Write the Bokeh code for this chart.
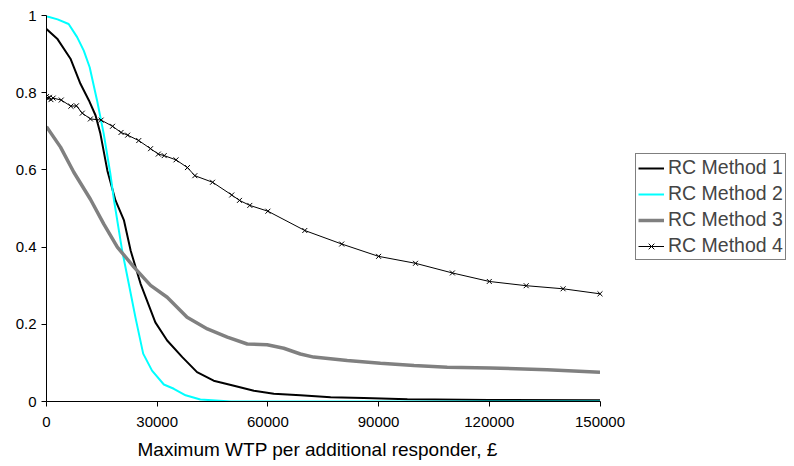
from bokeh.plotting import figure
from bokeh.models import Range1d, FixedTicker, NumeralTickFormatter, Legend, LegendItem, Title
from bokeh.embed import file_html
from bokeh.resources import INLINE

# RC Method 1
m1_x = [0, 2900, 6500, 9200, 11500, 13300, 14600, 16500, 18700, 21000, 22800, 25500, 29500, 32700, 36800, 40800, 45300, 50800, 56200, 61600, 68800, 77000, 86000, 97800, 120000, 150000]
m1_y = [0.965, 0.940, 0.888, 0.823, 0.780, 0.741, 0.694, 0.598, 0.521, 0.469, 0.391, 0.305, 0.205, 0.158, 0.115, 0.076, 0.054, 0.041, 0.028, 0.020, 0.016, 0.011, 0.009, 0.006, 0.004, 0.003]
# RC Method 2
m2_x = [0, 3000, 6000, 8300, 10100, 11700, 13700, 15500, 17300, 18300, 20500, 22300, 24100, 26200, 28600, 31800, 34500, 37700, 41700, 50000, 150000]
m2_y = [0.998, 0.990, 0.978, 0.944, 0.909, 0.866, 0.780, 0.694, 0.590, 0.521, 0.391, 0.305, 0.218, 0.124, 0.080, 0.044, 0.033, 0.016, 0.005, 0.0, 0.0]
# RC Method 3
m3_x = [0, 3800, 7400, 11900, 15500, 19200, 23700, 28200, 32700, 38100, 43600, 49000, 54400, 59800, 64300, 68800, 72400, 81500, 90500, 99600, 108600, 120300, 135700, 150000]
m3_y = [0.712, 0.659, 0.594, 0.524, 0.460, 0.400, 0.348, 0.301, 0.270, 0.218, 0.188, 0.167, 0.149, 0.147, 0.138, 0.123, 0.115, 0.106, 0.099, 0.093, 0.089, 0.087, 0.082, 0.076]
# RC Method 4
m4_x = [0, 400, 800, 1200, 1800, 4000, 6600, 8100, 9700, 11900, 14800, 17900, 20200, 22000, 25000, 28200, 30300, 31900, 35100, 38200, 40200, 45000, 50200, 52300, 55100, 60000, 70000, 80000, 90000, 100000, 110000, 120000, 130000, 140000, 150000]
m4_y = [0.790, 0.785, 0.788, 0.782, 0.786, 0.781, 0.765, 0.766, 0.747, 0.732, 0.729, 0.713, 0.697, 0.690, 0.676, 0.655, 0.641, 0.637, 0.626, 0.606, 0.585, 0.568, 0.535, 0.521, 0.508, 0.493, 0.443, 0.408, 0.376, 0.358, 0.333, 0.311, 0.300, 0.292, 0.279]

labels = ["RC Method 1", "RC Method 2", "RC Method 3", "RC Method 4"]
x_ticks = [0, 30000, 60000, 90000, 120000, 150000]
y_ticks = [0, 0.2, 0.4, 0.6, 0.8, 1]
x_title = "Maximum WTP per additional responder, \u00a3"
X_MAX = 150000

FONT = "Liberation Sans"

# frame spans the whole right side so the legend can sit beside the axis;
# the x axis itself is bounded to 0..150000 (pixel 46..600)
frame_w = 794 - 46
x_end = X_MAX * frame_w / 553.5

p = figure(width=794, height=466, output_backend="svg", toolbar_location=None,
           x_range=Range1d(0, x_end), y_range=Range1d(0, 1),
           min_border_left=46, min_border_right=0, min_border_top=15, min_border_bottom=20)
p.outline_line_color = None
p.xgrid.visible = False
p.ygrid.visible = False
p.background_fill_color = "white"
p.border_fill_color = "white"

r1 = p.line(m1_x, m1_y, line_color="black", line_width=2)
r2 = p.line(m2_x, m2_y, line_color="#00FFFF", line_width=2)
r3 = p.line(m3_x, m3_y, line_color="#808080", line_width=3.5)
r4 = p.line(m4_x, m4_y, line_color="black", line_width=1)
r4m = p.scatter(m4_x, m4_y, marker="x", size=7, line_color="black", line_width=1)

for ax in (p.xaxis[0], p.yaxis[0]):
    ax.axis_line_color = "black"
    ax.axis_line_width = 1
    ax.major_tick_in = 0
    ax.major_tick_out = 5
    ax.minor_tick_line_color = None
    ax.major_label_text_font = FONT
    ax.major_label_text_font_size = "15px"
    ax.major_label_text_color = "black"

p.xaxis[0].bounds = (0, X_MAX)
p.xaxis[0].ticker = FixedTicker(ticks=x_ticks)
p.yaxis[0].ticker = FixedTicker(ticks=y_ticks)
p.xaxis[0].formatter = NumeralTickFormatter(format="0")
p.yaxis[0].formatter = NumeralTickFormatter(format="0.[0]")
p.xaxis[0].major_label_standoff = 10

xt = Title(text=x_title, align="left", offset=91, standoff=14,
           text_font=FONT, text_font_size="19px", text_font_style="normal",
           text_color="black")
p.add_layout(xt, "below")

legend = Legend(items=[
    LegendItem(label=labels[0], renderers=[r1]),
    LegendItem(label=labels[1], renderers=[r2]),
    LegendItem(label=labels[2], renderers=[r3]),
    LegendItem(label=labels[3], renderers=[r4, r4m]),
], location=(589, 141))
legend.border_line_color = "black"
legend.border_line_width = 1
legend.background_fill_color = "white"
legend.background_fill_alpha = 1
legend.label_text_font = FONT
legend.label_text_font_size = "19.5px"
legend.label_height = 20
legend.glyph_height = 20
legend.glyph_width = 26
legend.label_standoff = 4
legend.spacing = 3
legend.padding = 2
legend.margin = 0
p.add_layout(legend, "center")

open("out.html", "w").write(file_html(p, INLINE))
